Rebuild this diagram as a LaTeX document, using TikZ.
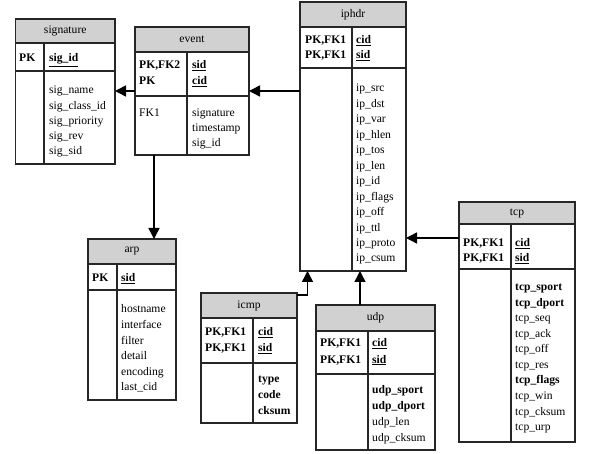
\documentclass[tikz,border=0pt]{standalone}
\usepackage{fontspec}
\setmainfont{Liberation Serif}
\usetikzlibrary{arrows.meta,calc}
\newcommand\fs{\fontsize{11.6}{14}\selectfont}
\tikzset{
 tbl/.style={draw=black!85, line width=1.4pt, inner sep=0pt, outer sep=0pt},
 hdr/.style={fill=black!18},
 sepline/.style={draw=black!85, line width=1.4pt},
 fld/.style={anchor=base west, inner sep=0pt, font=\fs},
 ttl/.style={inner sep=0pt, font=\fs},
 rel/.style={line width=1.5pt, black, -{Triangle[length=11pt,width=11pt]}},
}
% #1 name, #2 left, #3 top, #4 right, #5 header bottom, #6 key bottom, #7 bottom, #8 divider x, #9 title
\newcommand\erbox[9]{%
 \fill[hdr] (#2,#3) rectangle (#4,#5);
 \draw[sepline] (#2,#5) -- (#4,#5);
 \draw[sepline] (#2,#6) -- (#4,#6);
 \draw[sepline] (#8,#5) -- (#8,#7);
 \node[tbl, anchor=north west, minimum width={(#4-#2)*1pt}, minimum height={(#7-#3)*1pt}] (#1) at (#2,#3) {};
 \node[ttl] (#1-t) at ({(#2+#4)/2},{(#3+#5)/2}) {#9};
}
% #1 prefix, #2 x, #3 first baseline, #4 step, #5 list
\newcommand\rows[5]{%
 \foreach \t [count=\i] in {#5} \node[fld] (#1\i) at (#2,{#3+(\i-1)*#4}) {\t};
}
\begin{document}
\begin{tikzpicture}[x=1pt,y=-1pt]
\fill[white] (0,0) rectangle (592,454);
\useasboundingbox (0,0) rectangle (592,454);

% signature
\erbox{sig}{15.5}{19}{115}{43}{71}{164}{44}{signature}
\rows{sigk}{19}{62}{15}{\textbf{PK}}
\rows{sigp}{49}{62}{15}{\underline{\textbf{sig\_id}}}
\rows{sigb}{49}{94}{15.25}{sig\_name,sig\_class\_id,sig\_priority,sig\_rev,sig\_sid}

% event
\erbox{event}{135}{27}{249}{52}{96}{155}{187}{event}
\rows{evk}{139}{69}{16}{\textbf{PK,FK2},\textbf{PK}}
\rows{evp}{192}{69}{16}{\underline{\textbf{sid}},\underline{\textbf{cid}}}
\rows{evf}{139}{117}{15}{FK1}
\rows{evb}{192}{117}{15}{signature,timestamp,sig\_id}

% iphdr
\erbox{iphdr}{300}{2}{406}{27}{68}{271}{352}{iphdr}
\rows{ipk}{305}{44}{15}{\textbf{PK,FK1},\textbf{PK,FK1}}
\rows{ipp}{356}{44}{15}{\underline{\textbf{cid}},\underline{\textbf{sid}}}
\rows{ipb}{356}{92}{15.45}{ip\_src,ip\_dst,ip\_var,ip\_hlen,ip\_tos,ip\_len,ip\_id,ip\_flags,ip\_off,ip\_ttl,ip\_proto,ip\_csum}

% arp
\erbox{arp}{88}{239}{176}{264}{290}{400}{117}{arp}
\rows{arpk}{92}{282}{15}{\textbf{PK}}
\rows{arpp}{121}{282}{15}{\underline{\textbf{sid}}}
\rows{arpb}{121}{313}{15.6}{hostname,interface,filter,detail,encoding,last\_cid}

% icmp
\erbox{icmp}{201}{293}{297}{318}{363}{423}{253}{icmp}
\rows{ick}{205}{336}{15.5}{\textbf{PK,FK1},\textbf{PK,FK1}}
\rows{icp}{258}{336}{15.5}{\underline{\textbf{cid}},\underline{\textbf{sid}}}
\rows{icb}{258}{383}{15.5}{\textbf{type},\textbf{code},\textbf{cksum}}

% udp
\erbox{udp}{316}{305}{435}{331}{374}{450}{368}{udp}
\rows{udk}{320}{347}{16}{\textbf{PK,FK1},\textbf{PK,FK1}}
\rows{udp}{372}{347}{16}{\underline{\textbf{cid}},\underline{\textbf{sid}}}
\rows{udb}{372}{394}{15.7}{\textbf{udp\_sport},\textbf{udp\_dport},udp\_len,udp\_cksum}

% tcp
\erbox{tcp}{459}{202}{575}{224}{269}{442}{511}{tcp}
\rows{tck}{463}{247}{14.5}{\textbf{PK,FK1},\textbf{PK,FK1}}
\rows{tcpk}{515}{247}{14.5}{\underline{\textbf{cid}},\underline{\textbf{sid}}}
\rows{tcb}{515}{291}{15.5}{\textbf{tcp\_sport},\textbf{tcp\_dport},tcp\_seq,tcp\_ack,tcp\_off,tcp\_res,\textbf{tcp\_flags},tcp\_win,tcp\_cksum,tcp\_urp}

% relationships
\draw[rel] (event.east -| iphdr.west) -- (event.east);
\draw[rel] (event.west) -- (event.west -| sig.east);
\draw[rel] ([xshift=19pt]event.south west) -- ([xshift=19pt]event.south west |- arp.north);
\draw[rel] ([yshift=-36pt]tcp.north west) -- ([yshift=-36pt]tcp.north west -| iphdr.east);
\draw[rel] ([yshift=-2pt]icmp.north east) -| ([xshift=7.5pt]iphdr.south west);
\draw[rel] ([xshift=44pt]udp.north west) -- ([xshift=44pt]udp.north west |- iphdr.south);
\end{tikzpicture}
\end{document}
